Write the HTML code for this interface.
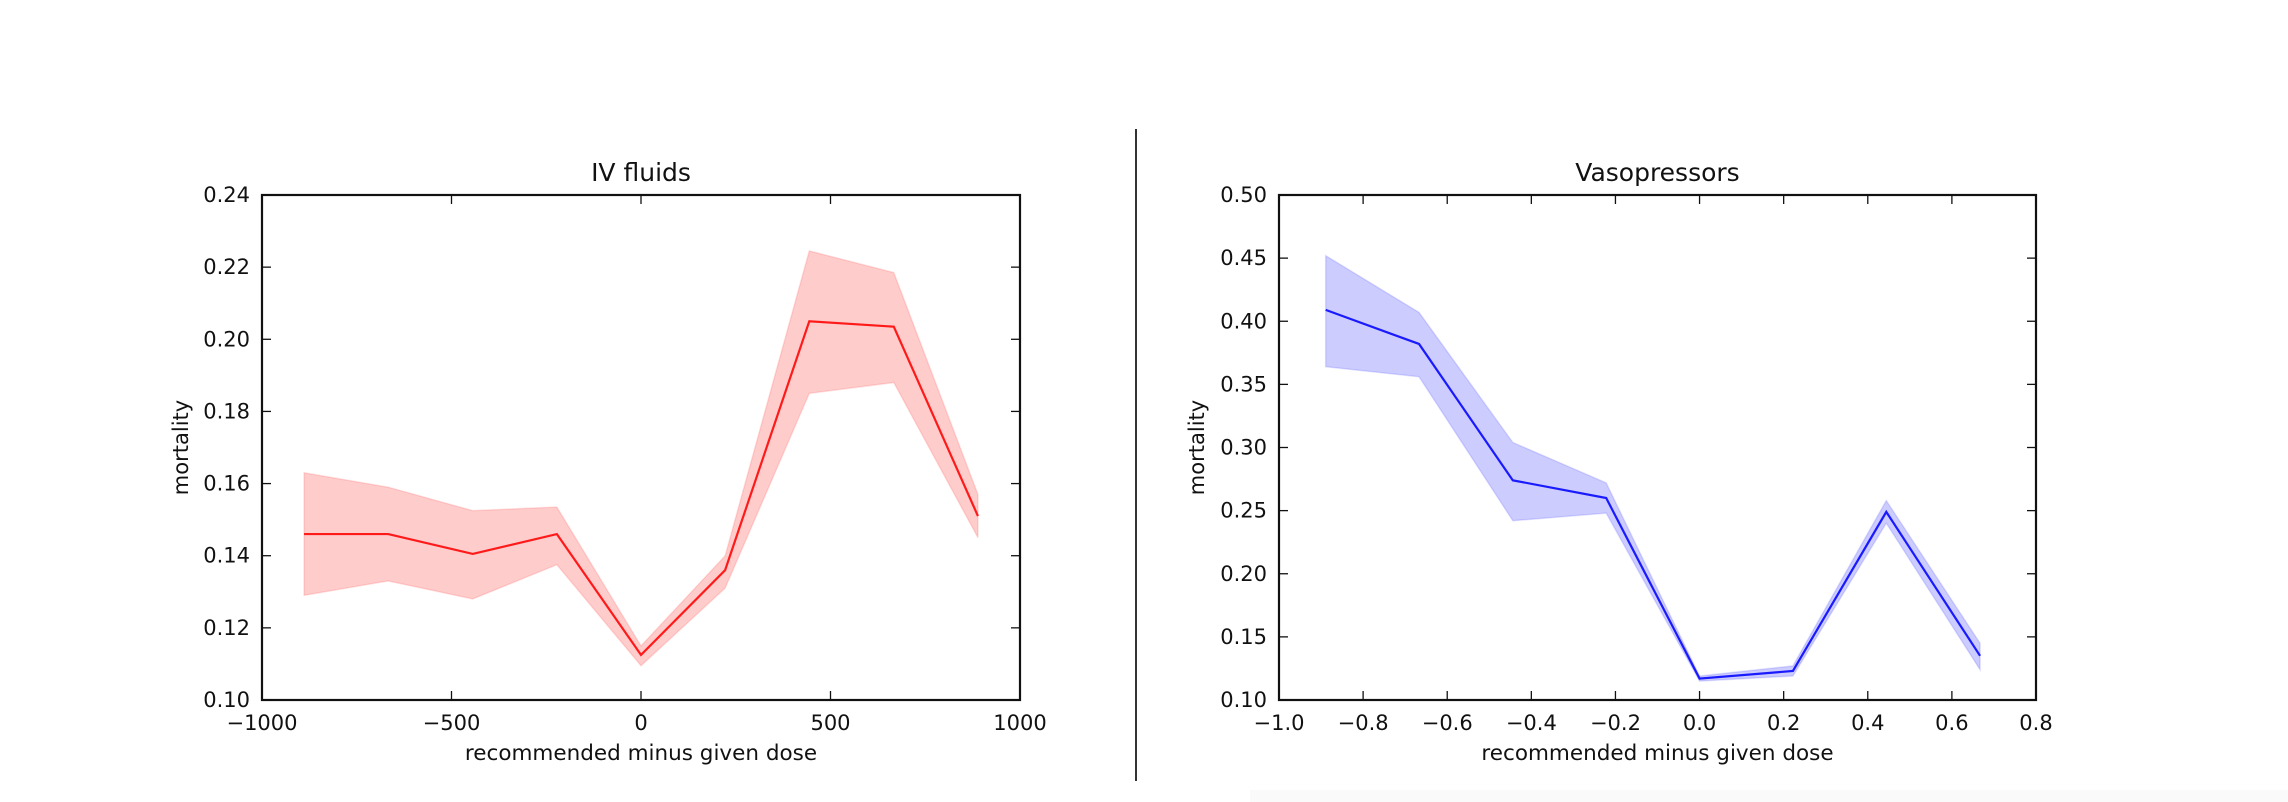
<!DOCTYPE html>
<html><head><meta charset="utf-8"><style>
html,body{margin:0;padding:0;background:#fff;}
svg{display:block;font-family:"DejaVu Sans","Liberation Sans",sans-serif;}
</style></head><body>
<svg id="fig" width="2288" height="802" viewBox="0 0 2288 802">
<rect x="1250" y="790" width="1038" height="12" fill="#fafafa"/>
<line x1="1136" y1="129" x2="1136" y2="781" stroke="#333" stroke-width="2"/>
</svg>
<script>
const ivX = [-889,-667,-444,-222,0,222,444,667,889];
const ivMean = [0.146,0.146,0.1405,0.146,0.1125,0.136,0.205,0.2035,0.151];
const ivUpper = [0.163,0.159,0.1525,0.1535,0.115,0.140,0.2245,0.2185,0.157];
const ivLower = [0.129,0.133,0.128,0.1375,0.1095,0.131,0.185,0.188,0.145];
const ivXTicks = [-1000,-500,0,500,1000];
const ivXTickLabels = ["\u22121000","\u2212500","0","500","1000"];
const ivYTicks = [0.10,0.12,0.14,0.16,0.18,0.20,0.22,0.24];
const ivYTickLabels = ["0.10","0.12","0.14","0.16","0.18","0.20","0.22","0.24"];

const vpX = [-0.889,-0.667,-0.444,-0.222,0,0.222,0.444,0.667];
const vpMean = [0.409,0.382,0.274,0.260,0.117,0.123,0.249,0.135];
const vpUpper = [0.452,0.407,0.304,0.272,0.119,0.127,0.258,0.145];
const vpLower = [0.364,0.356,0.242,0.248,0.115,0.119,0.240,0.124];
const vpXTicks = [-1.0,-0.8,-0.6,-0.4,-0.2,0.0,0.2,0.4,0.6,0.8];
const vpXTickLabels = ["\u22121.0","\u22120.8","\u22120.6","\u22120.4","\u22120.2","0.0","0.2","0.4","0.6","0.8"];
const vpYTicks = [0.10,0.15,0.20,0.25,0.30,0.35,0.40,0.45,0.50];
const vpYTickLabels = ["0.10","0.15","0.20","0.25","0.30","0.35","0.40","0.45","0.50"];

const NS="http://www.w3.org/2000/svg";
const svg=document.getElementById('fig');
function mk(tag,attrs,parent){const e=document.createElementNS(NS,tag);for(const k in attrs)e.setAttribute(k,attrs[k]);(parent||svg).appendChild(e);return e;}

function panel(cfg){
  const g=mk('g',{});
  
  
  const L=cfg.L,R=cfg.R,T=195,B=700;
  const sx=v=>L+(v-cfg.xmin)/(cfg.xmax-cfg.xmin)*(R-L);
  const sy=v=>B-(v-cfg.ymin)/(cfg.ymax-cfg.ymin)*(B-T);
  let d='';
  cfg.x.forEach((v,i)=>{d+=(i?'L':'M')+sx(v)+','+sy(cfg.up[i]);});
  for(let i=cfg.x.length-1;i>=0;i--)d+='L'+sx(cfg.x[i])+','+sy(cfg.lo[i]);
  const band=mk('path',{d:d+'Z',fill:cfg.fill,stroke:cfg.fillStroke,'stroke-width':1.5},g);
  
  
  let p='';
  cfg.x.forEach((v,i)=>{p+=(i?'L':'M')+sx(v)+','+sy(cfg.mean[i]);});
  const line=mk('path',{d:p,fill:'none',stroke:cfg.color,'stroke-width':2.2},g);
  
  
  const frame=mk('rect',{x:L,y:T,width:R-L,height:B-T,fill:'none',stroke:'#111','stroke-width':2.2},g);
  
  
  cfg.xt.forEach((v,i)=>{
    const x=sx(v);
    mk('line',{x1:x,y1:B,x2:x,y2:B-9,stroke:'#111','stroke-width':1.3},g);
    mk('line',{x1:x,y1:T,x2:x,y2:T+9,stroke:'#111','stroke-width':1.3},g);
    const t=mk('text',{x:x,y:B+30,'font-size':21,'text-anchor':'middle',fill:'#111'},g);
    t.textContent=cfg.xtl[i];
    
    
  });
  cfg.yt.forEach((v,i)=>{
    const y=sy(v);
    mk('line',{x1:L,y1:y,x2:L+9,y2:y,stroke:'#111','stroke-width':1.3},g);
    mk('line',{x1:R,y1:y,x2:R-9,y2:y,stroke:'#111','stroke-width':1.3},g);
    const t=mk('text',{x:L-12,y:y+7,'font-size':21,'text-anchor':'end',fill:'#111'},g);
    t.textContent=cfg.ytl[i];
    
    
  });
  const title=mk('text',{x:(L+R)/2,y:181,'font-size':25,'text-anchor':'middle',fill:'#111'},g);
  title.textContent=cfg.title;
  
  
  const xl=mk('text',{x:(L+R)/2,y:760,'font-size':21.5,'text-anchor':'middle',fill:'#111'},g);
  xl.textContent='recommended minus given dose';
  
  
  const yx=cfg.ylabX;
  const yl=mk('text',{x:yx,y:(T+B)/2,'font-size':21,'text-anchor':'middle',fill:'#111',transform:'rotate(-90 '+yx+' '+((T+B)/2)+')'},g);
  yl.textContent='mortality';
  
  
}
panel({name:'iv-fluids-chart',L:262,R:1020,xmin:-1000,xmax:1000,ymin:0.10,ymax:0.24,x:ivX,mean:ivMean,up:ivUpper,lo:ivLower,xt:ivXTicks,xtl:ivXTickLabels,yt:ivYTicks,ytl:ivYTickLabels,title:'IV fluids',color:'#ff1a1a',fill:'rgba(255,0,0,0.2)',fillStroke:'rgba(255,0,0,0.12)',ylabX:188});
panel({name:'vasopressors-chart',L:1279,R:2036,xmin:-1.0,xmax:0.8,ymin:0.10,ymax:0.50,x:vpX,mean:vpMean,up:vpUpper,lo:vpLower,xt:vpXTicks,xtl:vpXTickLabels,yt:vpYTicks,ytl:vpYTickLabels,title:'Vasopressors',color:'#1a1aff',fill:'rgba(0,0,255,0.2)',fillStroke:'rgba(0,0,255,0.12)',ylabX:1204});
</script>
</body></html>
